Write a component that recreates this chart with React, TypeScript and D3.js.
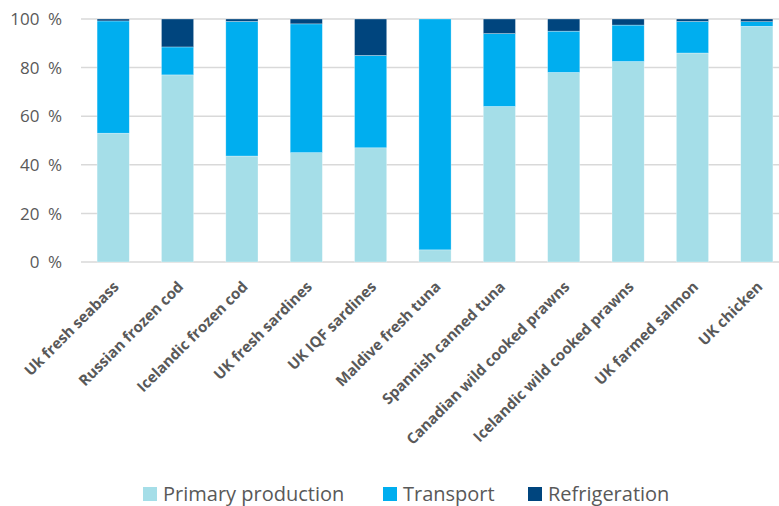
import React from "react";
import * as d3 from "d3";

const categories = [
  "Uk fresh seabass",
  "Russian frozen cod",
  "Icelandic frozen cod",
  "UK fresh sardines",
  "UK IQF sardines",
  "Maldive fresh tuna",
  "Spannish canned tuna",
  "Canadian wild cooked prawns",
  "Icelandic wild cooked prawns",
  "UK farmed salmon",
  "UK chicken",
];
const primaryProduction = [53, 77, 43.6, 45, 47, 5, 64, 78, 82.5, 86, 97];
const transport = [46.2, 11.5, 55.4, 53, 38, 95, 30, 17, 15, 13, 1.9];
const refrigeration = [0.8, 11.5, 1, 2, 15, 0, 6, 5, 2.5, 1, 1.1];
const seriesNames = ["Primary production", "Transport", "Refrigeration"];
const seriesColors = ["#A5DEE8", "#00AEEF", "#00457E"];
const yTicks = [0, 20, 40, 60, 80, 100];

const W = 779;
const H = 506;
const FONT = "'Open Sans', Lato, sans-serif";

export default function App() {
  const x = d3.scaleBand<string>().domain(categories).range([81, 789]).paddingInner(0.5).paddingOuter(0.25);
  const y = d3.scaleLinear().domain([0, 100]).range([262, 19]);

  const rows = categories.map((c, i) => ({
    cat: c,
    p: primaryProduction[i],
    t: transport[i],
    r: refrigeration[i],
  }));
  const stack = d3.stack<any>().keys(["p", "t", "r"])(rows);

  const legendX = [143, 383, 528];

  return (
    <svg width={W} height={H} style={{ position: "absolute", left: 0, top: 0, background: "#fff" }}>
      {yTicks.map((t) => (
        <g key={t}>
          <line x1={81} x2={779} y1={y(t)} y2={y(t)} stroke="#D9D9D9" strokeWidth={1.5} />
          <text x={62} y={y(t)} dy="0.36em" textAnchor="end" fontFamily={FONT} fontSize={17} fill="#595959" style={{ whiteSpace: "pre" }}>
            {t + "\u2002%"}
          </text>
        </g>
      ))}
      {stack.map((s, si) => (
        <g key={si} fill={seriesColors[si]}>
          {s.map((d, i) =>
            d[1] - d[0] > 0 ? (
              <rect
                key={i}
                x={x(categories[i])!}
                width={x.bandwidth()}
                y={y(d[1])}
                height={y(d[0]) - y(d[1])}
                stroke="rgba(255,255,255,0.5)"
                strokeWidth={0.6}
              />
            ) : null
          )}
        </g>
      ))}
      {categories.map((c) => {
        const cx = x(c)! + x.bandwidth() / 2 + 3;
        const cy = 284;
        return (
          <text
            key={c}
            transform={`translate(${cx},${cy}) rotate(-45)`}
            textAnchor="end"
            dy="0.35em"
            fontFamily={FONT}
            fontWeight="bold"
            fontSize={15}
            fill="#595959"
          >
            {c}
          </text>
        );
      })}
      {seriesNames.map((n, i) => (
        <g key={n}>
          <rect x={legendX[i]} y={487} width={14} height={14} fill={seriesColors[i]} />
          <text x={legendX[i] + 20} y={501} fontFamily={FONT} fontSize={20} fill="#595959">
            {n}
          </text>
        </g>
      ))}
    </svg>
  );
}
